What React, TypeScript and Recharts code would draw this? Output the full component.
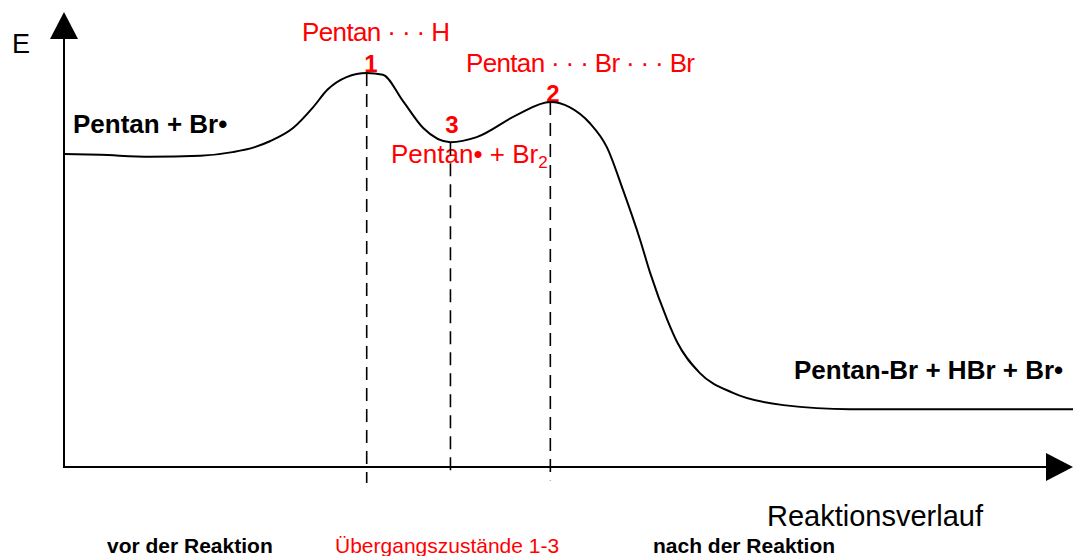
import { ComposedChart, Line, XAxis, YAxis, ReferenceLine } from 'recharts';

// reaction progress (0..100) and energy (0..100)
const progress = [0, 3.6, 8.5, 13.5, 16.7, 18.9, 20.4, 22.7, 24.7, 26.1, 28.0, 30.0, 31.6, 33.6, 35.6, 38.3, 40.9, 44.9, 48.2, 50.1, 52.1, 53.8, 55.4, 57.1, 58.1, 59.8, 60.8, 63.0, 66.3, 71.3, 77.9, 87.8, 100];
const energy = [68.8, 68.6, 68.2, 68.4, 69.2, 70.3, 71.6, 74.5, 79.1, 82.9, 85.7, 86.6, 86.2, 80.4, 74.5, 71.4, 72.5, 77.4, 80.2, 79.1, 75.6, 70.3, 60.9, 49.9, 42.6, 32.3, 27.3, 20.7, 16.3, 13.6, 12.7, 12.7, 12.7];

// transition states 1, 2 and the intermediate 3
const tsProgress = [30.0, 48.2, 38.3];
const tsEnergy = [86.6, 80.2, 71.4];
const tsDashEnd = [-3.5, -2.9, -2.2];

const data = progress.map((p, i) => ({ p, e: energy[i] }));

const RED = '#ff0000';
const FONT = '"Liberation Sans", Arial, sans-serif';

const W = 1073;
const H = 556;

const labels = [
  { text: 'E', x: 12, y: 53, size: 27 },
  { text: 'Pentan + Br•', x: 73, y: 133, size: 26, bold: true },
  { text: 'Pentan · · · H', x: 302, y: 41, size: 26, color: RED, len: 148 },
  { text: '1', x: 371, y: 72, size: 24, bold: true, color: RED, mid: true },
  { text: 'Pentan · · · Br · · · Br', x: 466, y: 72, size: 26, color: RED, len: 229 },
  { text: '2', x: 553, y: 102, size: 24, bold: true, color: RED, mid: true },
  { text: '3', x: 452, y: 133, size: 24, bold: true, color: RED, mid: true },
  { text: 'Pentan-Br + HBr + Br•', x: 794, y: 379, size: 26, bold: true },
  { text: 'Reaktionsverlauf', x: 767, y: 526, size: 29 },
  { text: 'vor der Reaktion', x: 107, y: 553, size: 21, bold: true },
  { text: 'Übergangszustände 1-3', x: 335, y: 553, size: 21, color: RED },
  { text: 'nach der Reaktion', x: 653, y: 553, size: 21, bold: true },
];

function ArrowLine(props: any) {
  const { x1, y1, x2, y2 } = props;
  const dx = x2 - x1;
  const dy = y2 - y1;
  const len = Math.hypot(dx, dy);
  const ux = dx / len;
  const uy = dy / len;
  const headL = 27;
  const headW = 14;
  const bx = x2 - ux * headL;
  const by = y2 - uy * headL;
  const nx = -uy;
  const ny = ux;
  return (
    <g>
      <line x1={x1} y1={y1} x2={bx} y2={by} stroke="#000" strokeWidth={2} />
      <polygon
        points={`${x2},${y2} ${bx + nx * headW},${by + ny * headW} ${bx - nx * headW},${by - ny * headW}`}
        fill="#000"
      />
    </g>
  );
}

export default function App() {
  return (
    <div style={{ position: 'absolute', left: 0, top: 0, width: W, height: H, background: '#fff' }}>
      <ComposedChart width={W} height={H} data={data} margin={{ top: 12, right: 0, bottom: 89, left: 64 }}>
        <XAxis dataKey="p" type="number" domain={[0, 100]} hide allowDataOverflow />
        <YAxis type="number" domain={[0, 100]} hide allowDataOverflow />

        {tsProgress.map((x, i) => (
          <ReferenceLine
            key={'ts' + i}
            segment={[{ x, y: tsEnergy[i] }, { x, y: tsDashEnd[i] }]}
            stroke="#000"
            strokeWidth={1.6}
            strokeDasharray="13 8"
            ifOverflow="visible"
          />
        ))}

        <ReferenceLine segment={[{ x: 0, y: 0 }, { x: 0, y: 100 }]} ifOverflow="visible" shape={ArrowLine} />
        <ReferenceLine segment={[{ x: -0.1, y: 0 }, { x: 100, y: 0 }]} ifOverflow="visible" shape={ArrowLine} />

        <Line
          type="monotone"
          dataKey="e"
          stroke="#000"
          strokeWidth={2}
          dot={false}
          activeDot={false}
          isAnimationActive={false}
        />

        {labels.map((l, i) => (
          <text
            key={'lb' + i}
            x={l.x}
            y={l.y}
            fontFamily={FONT}
            fontSize={l.size}
            fontWeight={l.bold ? 'bold' : 'normal'}
            fill={l.color || '#000'}
            textAnchor={l.mid ? 'middle' : 'start'}
            textLength={l.len}
            lengthAdjust={l.len ? 'spacing' : undefined}
          >
            {l.text}
          </text>
        ))}
        <text x={391} y={163} fontFamily={FONT} fontSize={26} fill={RED}>
          Pentan• + Br
          <tspan fontSize={17} dy={5}>2</tspan>
        </text>
      </ComposedChart>
    </div>
  );
}
